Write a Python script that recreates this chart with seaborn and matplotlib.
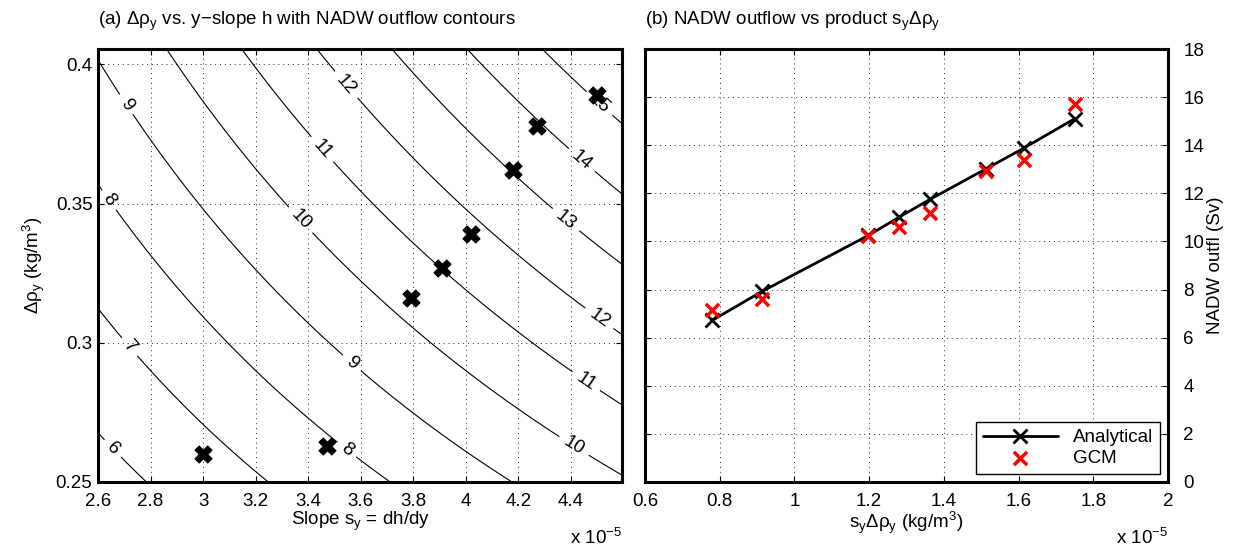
import numpy as np
import pandas as pd
import matplotlib
matplotlib.use("Agg")
import matplotlib.pyplot as plt
from matplotlib.ticker import FormatStrFormatter, MultipleLocator
import seaborn as sns

# ---------------- data (x axis values in units of 1e-5) ----------------
slope_sy = [3.00, 3.47, 3.79, 3.91, 4.02, 4.18, 4.27, 4.50]
delta_rho = [0.260, 0.263, 0.316, 0.327, 0.339, 0.362, 0.378, 0.389]
product = [0.780, 0.913, 1.198, 1.279, 1.363, 1.513, 1.614, 1.750]
analytical = [6.72, 7.92, 10.25, 11.00, 11.75, 13.02, 13.88, 15.10]
gcm = [7.13, 7.61, 10.22, 10.62, 11.20, 12.92, 13.38, 15.70]
contour_levels = [6, 7, 8, 9, 10, 11, 12, 13, 14, 15]
outflow_coef = 8.62   # NADW outflow (Sv) per unit s_y*drho_y (x1e-5)

BLACK = "#000000"
RED = "#ff0000"

sns.set_theme(style="white")
plt.rcParams["font.family"] = ["Liberation Sans", "DejaVu Sans"]
plt.rcParams["mathtext.fontset"] = "custom"
plt.rcParams["mathtext.rm"] = "Liberation Sans"
plt.rcParams["mathtext.it"] = "Liberation Sans:italic"
for k in ["text.color", "axes.labelcolor", "xtick.color", "ytick.color",
          "axes.edgecolor"]:
    plt.rcParams[k] = BLACK
FS = 13.5

fig = plt.figure(figsize=(12.34, 5.51), dpi=100)
ax1 = fig.add_axes([98 / 1234, 69 / 551, 524 / 1234, 433 / 551])
ax2 = fig.add_axes([645 / 1234, 69 / 551, 523 / 1234, 433 / 551])

grid_kw = dict(color=BLACK, linestyle=(0, (1, 4)), linewidth=0.7, alpha=0.85)

# ---------------- panel (a) ----------------
sg = np.linspace(2.55, 4.65, 300)
rg = np.linspace(0.245, 0.41, 300)
S, R = np.meshgrid(sg, rg)
Q = outflow_coef * S * R
cs = ax1.contour(S, R, Q, levels=contour_levels, colors=BLACK, linewidths=0.8)
label_pos = [(2.714, 0.386), (2.638, 0.351), (2.714, 0.298), (2.638, 0.2604),
             (3.533, 0.3917), (3.453, 0.3694), (3.37, 0.344), (3.56, 0.292),
             (3.54, 0.2608), (4.444, 0.3658), (4.38, 0.344), (4.505, 0.3083),
             (4.436, 0.283), (4.36, 0.255), (4.51, 0.386)]
ax1.clabel(cs, fmt="%d", fontsize=FS, inline=True, inline_spacing=6,
           manual=label_pos)

df1 = pd.DataFrame({"s": slope_sy, "rho": delta_rho})
sns.scatterplot(data=df1, x="s", y="rho", ax=ax1, marker="X", s=150,
                color=BLACK, edgecolor=BLACK, linewidth=0.8, zorder=5)

ax1.set_xlim(2.6, 4.595)
ax1.set_ylim(0.25, 0.4055)
ax1.xaxis.set_major_locator(MultipleLocator(0.2))
ax1.yaxis.set_major_locator(MultipleLocator(0.05))
ax1.xaxis.set_major_formatter(FormatStrFormatter("%g"))
ax1.yaxis.set_major_formatter(FormatStrFormatter("%g"))
ax1.grid(True, **grid_kw)
ax1.set_xlabel("Slope s$_\\mathregular{y}$ = dh/dy", fontsize=FS, labelpad=0)
ax1.set_ylabel("Δρ$_\\mathregular{y}$ (kg/m$^\\mathregular{3}$)", fontsize=FS, labelpad=6)
ax1.set_title("(a) Δρ$_\\mathregular{y}$ vs. y\u2212slope h with NADW outflow contours",
              loc="left", fontsize=FS, pad=17)
ax1.text(1.0, -0.129, "x 10$^{\\mathregular{\u22125}}$", transform=ax1.transAxes,
         ha="right", va="center", fontsize=FS)

# ---------------- panel (b) ----------------
df2 = pd.DataFrame({"p": product, "an": analytical, "gcm": gcm})
sns.lineplot(data=df2, x="p", y="an", ax=ax2, color=BLACK, linewidth=2,
             marker="x", markersize=10, markeredgewidth=2, markeredgecolor=BLACK,
             label="Analytical", zorder=4)
sns.scatterplot(data=df2, x="p", y="gcm", ax=ax2, marker="x", s=90,
                color=RED, linewidth=2.5, label="GCM", zorder=5)

ax2.set_xlim(0.6, 2.0)
ax2.set_ylim(0, 18)
ax2.xaxis.set_major_locator(MultipleLocator(0.2))
ax2.yaxis.set_major_locator(MultipleLocator(2))
ax2.xaxis.set_major_formatter(FormatStrFormatter("%g"))
ax2.yaxis.set_major_formatter(FormatStrFormatter("%g"))
ax2.yaxis.tick_right()
ax2.yaxis.set_label_position("right")
ax2.grid(True, **grid_kw)
ax2.set_xlabel("s$_\\mathregular{y}$Δρ$_\\mathregular{y}$ (kg/m$^\\mathregular{3}$)",
               fontsize=FS, labelpad=0)
ax2.set_ylabel("NADW outfl (Sv)", fontsize=FS, labelpad=2)
ax2.set_title("(b) NADW outflow vs product s$_\\mathregular{y}$Δρ$_\\mathregular{y}$",
              loc="left", fontsize=FS, pad=17)
ax2.text(1.0, -0.129, "x 10$^{\\mathregular{\u22125}}$", transform=ax2.transAxes,
         ha="right", va="center", fontsize=FS)
leg = ax2.legend(loc="lower right", fontsize=FS, handlelength=4.0,
                 fancybox=False, framealpha=1, edgecolor=BLACK,
                 borderaxespad=0.45, handletextpad=0.8, borderpad=0.35,
                 labelspacing=0.2)
leg.get_frame().set_linewidth(1.0)

for ax in (ax1, ax2):
    for sp in ax.spines.values():
        sp.set_visible(True)
        sp.set_color(BLACK)
        sp.set_linewidth(2.2)
    ax.tick_params(axis="both", which="both", direction="in", length=4,
                   width=0.8, labelsize=FS, colors=BLACK, pad=4,
                   top=True, right=True, left=True, bottom=True)
    ax.tick_params(axis="x", pad=8)
ax2.tick_params(axis="y", labelleft=False, labelright=True, pad=11)
ax1.tick_params(axis="y", labelleft=True, labelright=False)

fig.savefig("out.png", dpi=100)
